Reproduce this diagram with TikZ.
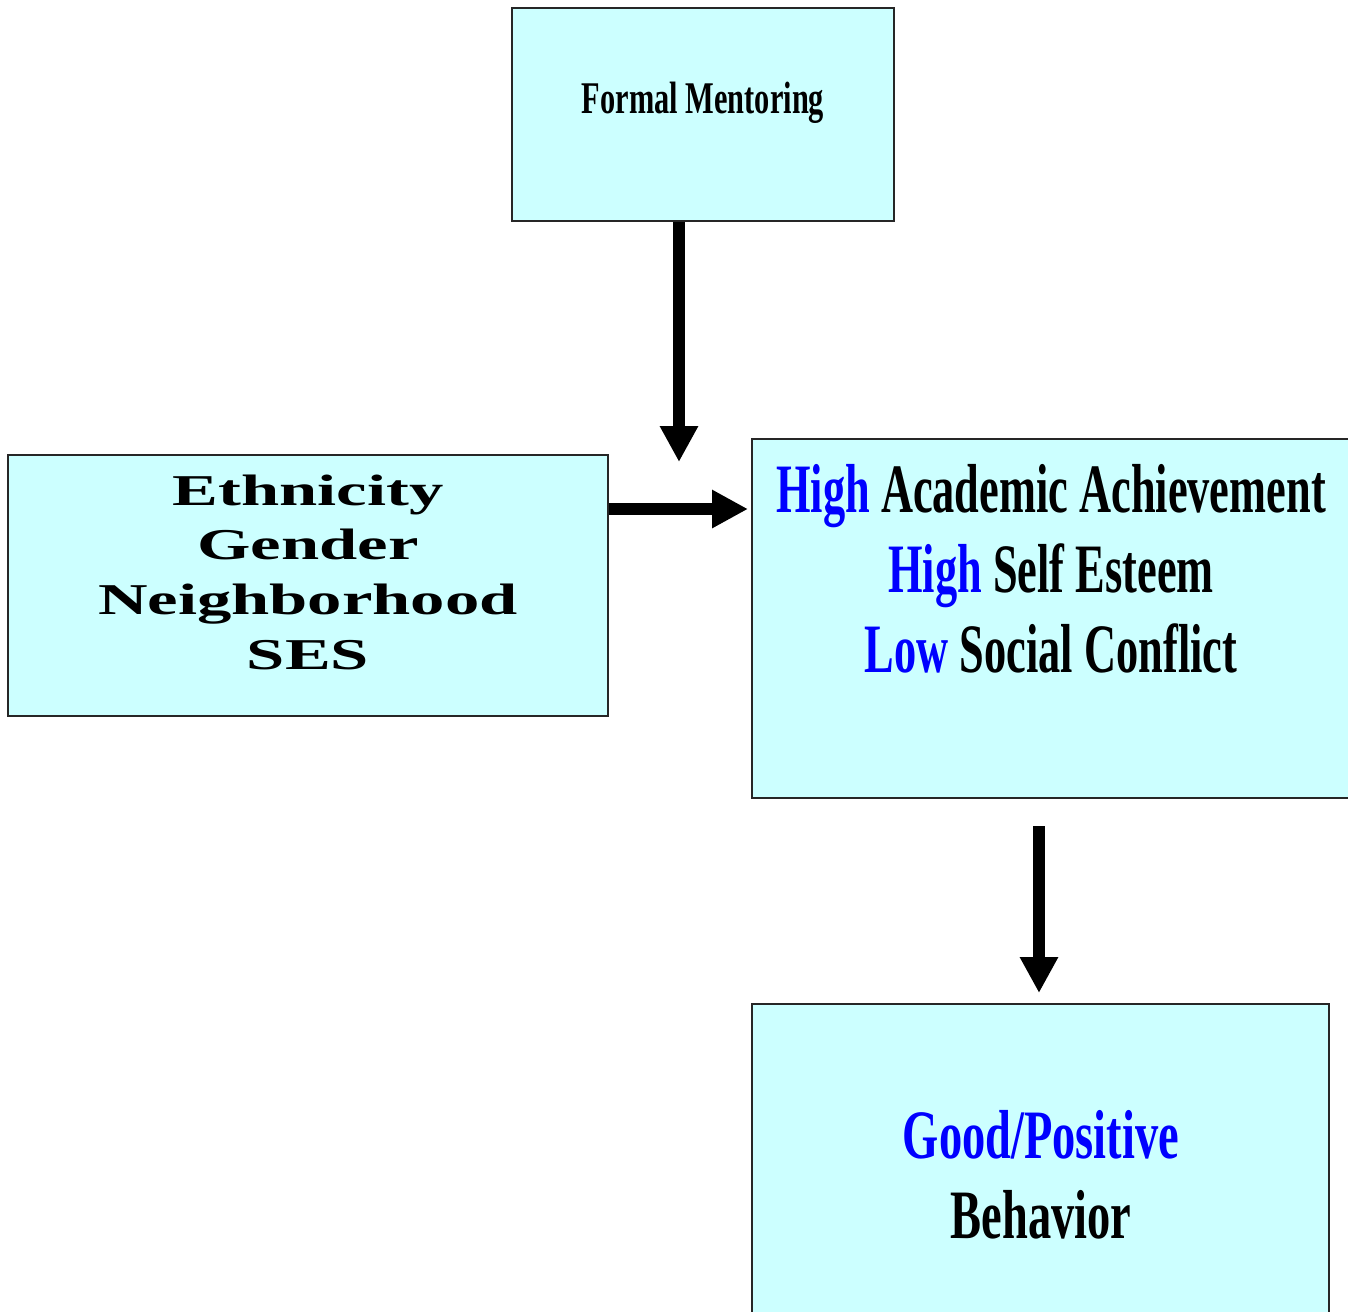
\documentclass[tikz,border=0pt]{standalone}
\usepackage{fontspec}
\usetikzlibrary{arrows.meta,fit}
\setmainfont{Liberation Serif}
\newfontfamily\narrowfont[FakeStretch=0.67]{Liberation Serif}
\newfontfamily\condfont[FakeStretch=0.64]{Liberation Serif}
\newfontfamily\widefont[FakeStretch=1.56]{Liberation Serif}
\definecolor{paleaqua}{HTML}{CCFFFF}
\definecolor{hiblue}{HTML}{0000FF}
\begin{document}
\begin{tikzpicture}[x=0.75pt,y=-0.75pt,line join=miter,
	panel/.style={draw=black!85,line width=1.1pt,fill=paleaqua,inner sep=0pt},
	flow/.style={line width=9pt,-{Triangle[length=27pt,width=27pt]}},
	lbl/.style={anchor=base,align=center,inner sep=0pt}]
			\useasboundingbox (0,0) rectangle (1348,1311);
			\clip (0,0) rectangle (1348,1311);
			% boxes
			\node[panel,fit={(512,8) (894,221)}] (mentor) {};
			\node[panel,fit={(8,455) (608,716)}] (context) {};
			\node[panel,fit={(752,439) (1370,798)}] (outcome) {};
			\node[panel,fit={(752,1004) (1329,1340)}] (behavior) {};
			% labels (base = last line)
			\node[lbl,font=\fontsize{34}{40}\selectfont\narrowfont\bfseries] (mentortext) at (703,113) {Formal Mentoring};
			\node[lbl,font=\fontsize{33}{41}\selectfont\widefont\bfseries] (contexttext) at (308,669) {Ethnicity\\Gender\\Neighborhood\\SES};
			\node[lbl,font=\fontsize{52}{60}\selectfont\condfont\bfseries] (outcometext) at (1051,672)
				{\textcolor{hiblue}{High} Academic Achievement\\\textcolor{hiblue}{High} Self Esteem\\\textcolor{hiblue}{Low} Social Conflict};
			\node[lbl,font=\fontsize{52}{60}\selectfont\narrowfont\bfseries] (behaviortext) at (1041,1238)
				{\textcolor{hiblue}{Good/Positive}\\Behavior};
			% arrows
			\coordinate (tipA) at (679,462);
			\coordinate (tipB) at (748,509);
			\coordinate (tailC) at (1039,826);
			\coordinate (tipC) at (1039,993);
			\draw[flow] (mentor.south -| tipA) -- (tipA);
			\draw[flow] (context.east |- tipB) -- (tipB);
			\draw[flow] (tailC) -- (tipC);
\end{tikzpicture}
\end{document}
